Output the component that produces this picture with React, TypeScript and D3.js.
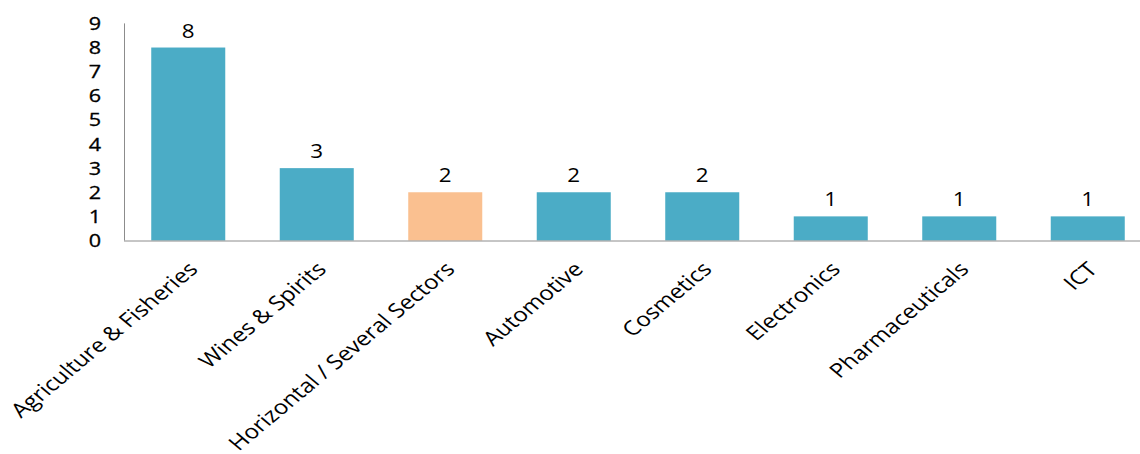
import React from "react";
import * as d3 from "d3";

const categories = [
  "Agriculture & Fisheries",
  "Wines & Spirits",
  "Horizontal / Several Sectors",
  "Automotive",
  "Cosmetics",
  "Electronics",
  "Pharmaceuticals",
  "ICT",
];
const values = [8, 3, 2, 2, 2, 1, 1, 1];
const highlighted = ["Horizontal / Several Sectors"];
const yTicks = [0, 1, 2, 3, 4, 5, 6, 7, 8, 9];

const W = 1140;
const H = 454;
const FONT = "'Open Sans', 'Noto Sans', sans-serif";
const SX = 1.2; // horizontal stretch of the text, as in the reference

export default function App() {
  const x = d3
    .scaleBand<string>()
    .domain(categories)
    .range([124, 1152])
    .paddingInner(0.424)
    .paddingOuter(0.212);
  const y = d3.scaleLinear().domain([0, 9]).range([240.5, 23.4]);

  return (
    <svg
      width={W}
      height={H}
      style={{ position: "absolute", left: 0, top: 0, background: "#fff" }}
    >
      {categories.map((c, i) => (
        <rect
          key={c}
          x={x(c)}
          y={y(values[i])}
          width={x.bandwidth()}
          height={y(0) - y(values[i])}
          fill={highlighted.includes(c) ? "#FAC090" : "#4BACC6"}
        />
      ))}
      <line x1={124.5} x2={124.5} y1={y(9)} y2={y(0)} stroke="#8c8c8c" strokeWidth={1} />
      <line x1={124} x2={W} y1={y(0) + 0.5} y2={y(0) + 0.5} stroke="#8c8c8c" strokeWidth={1} />
      {yTicks.map((t) => (
        <text
          key={t}
          transform={`translate(101,${y(t)}) scale(${SX},1)`}
          dy="0.36em"
          textAnchor="end"
          fontFamily={FONT}
          fontSize={18}
          fill="#000"
          stroke="#000"
          strokeWidth={0.3}
        >
          {t}
        </text>
      ))}
      {categories.map((c, i) => (
        <text
          key={"v" + c}
          transform={`translate(${(x(c) ?? 0) + x.bandwidth() / 2},${y(values[i]) - 10}) scale(1.12,1)`}
          textAnchor="middle"
          fontFamily={FONT}
          fontSize={20}
          fill="#000"
        >
          {values[i]}
        </text>
      ))}
      {categories.map((c) => {
        const cx = (x(c) ?? 0) + x.bandwidth() / 2;
        return (
          <text
            key={"l" + c}
            transform={`translate(${cx - 2},${260}) scale(${SX},1) rotate(-45)`}
            dy="0.75em"
            textAnchor="end"
            fontFamily={FONT}
            fontSize={20}
            fill="#000"
          >
            {c}
          </text>
        );
      })}
    </svg>
  );
}
